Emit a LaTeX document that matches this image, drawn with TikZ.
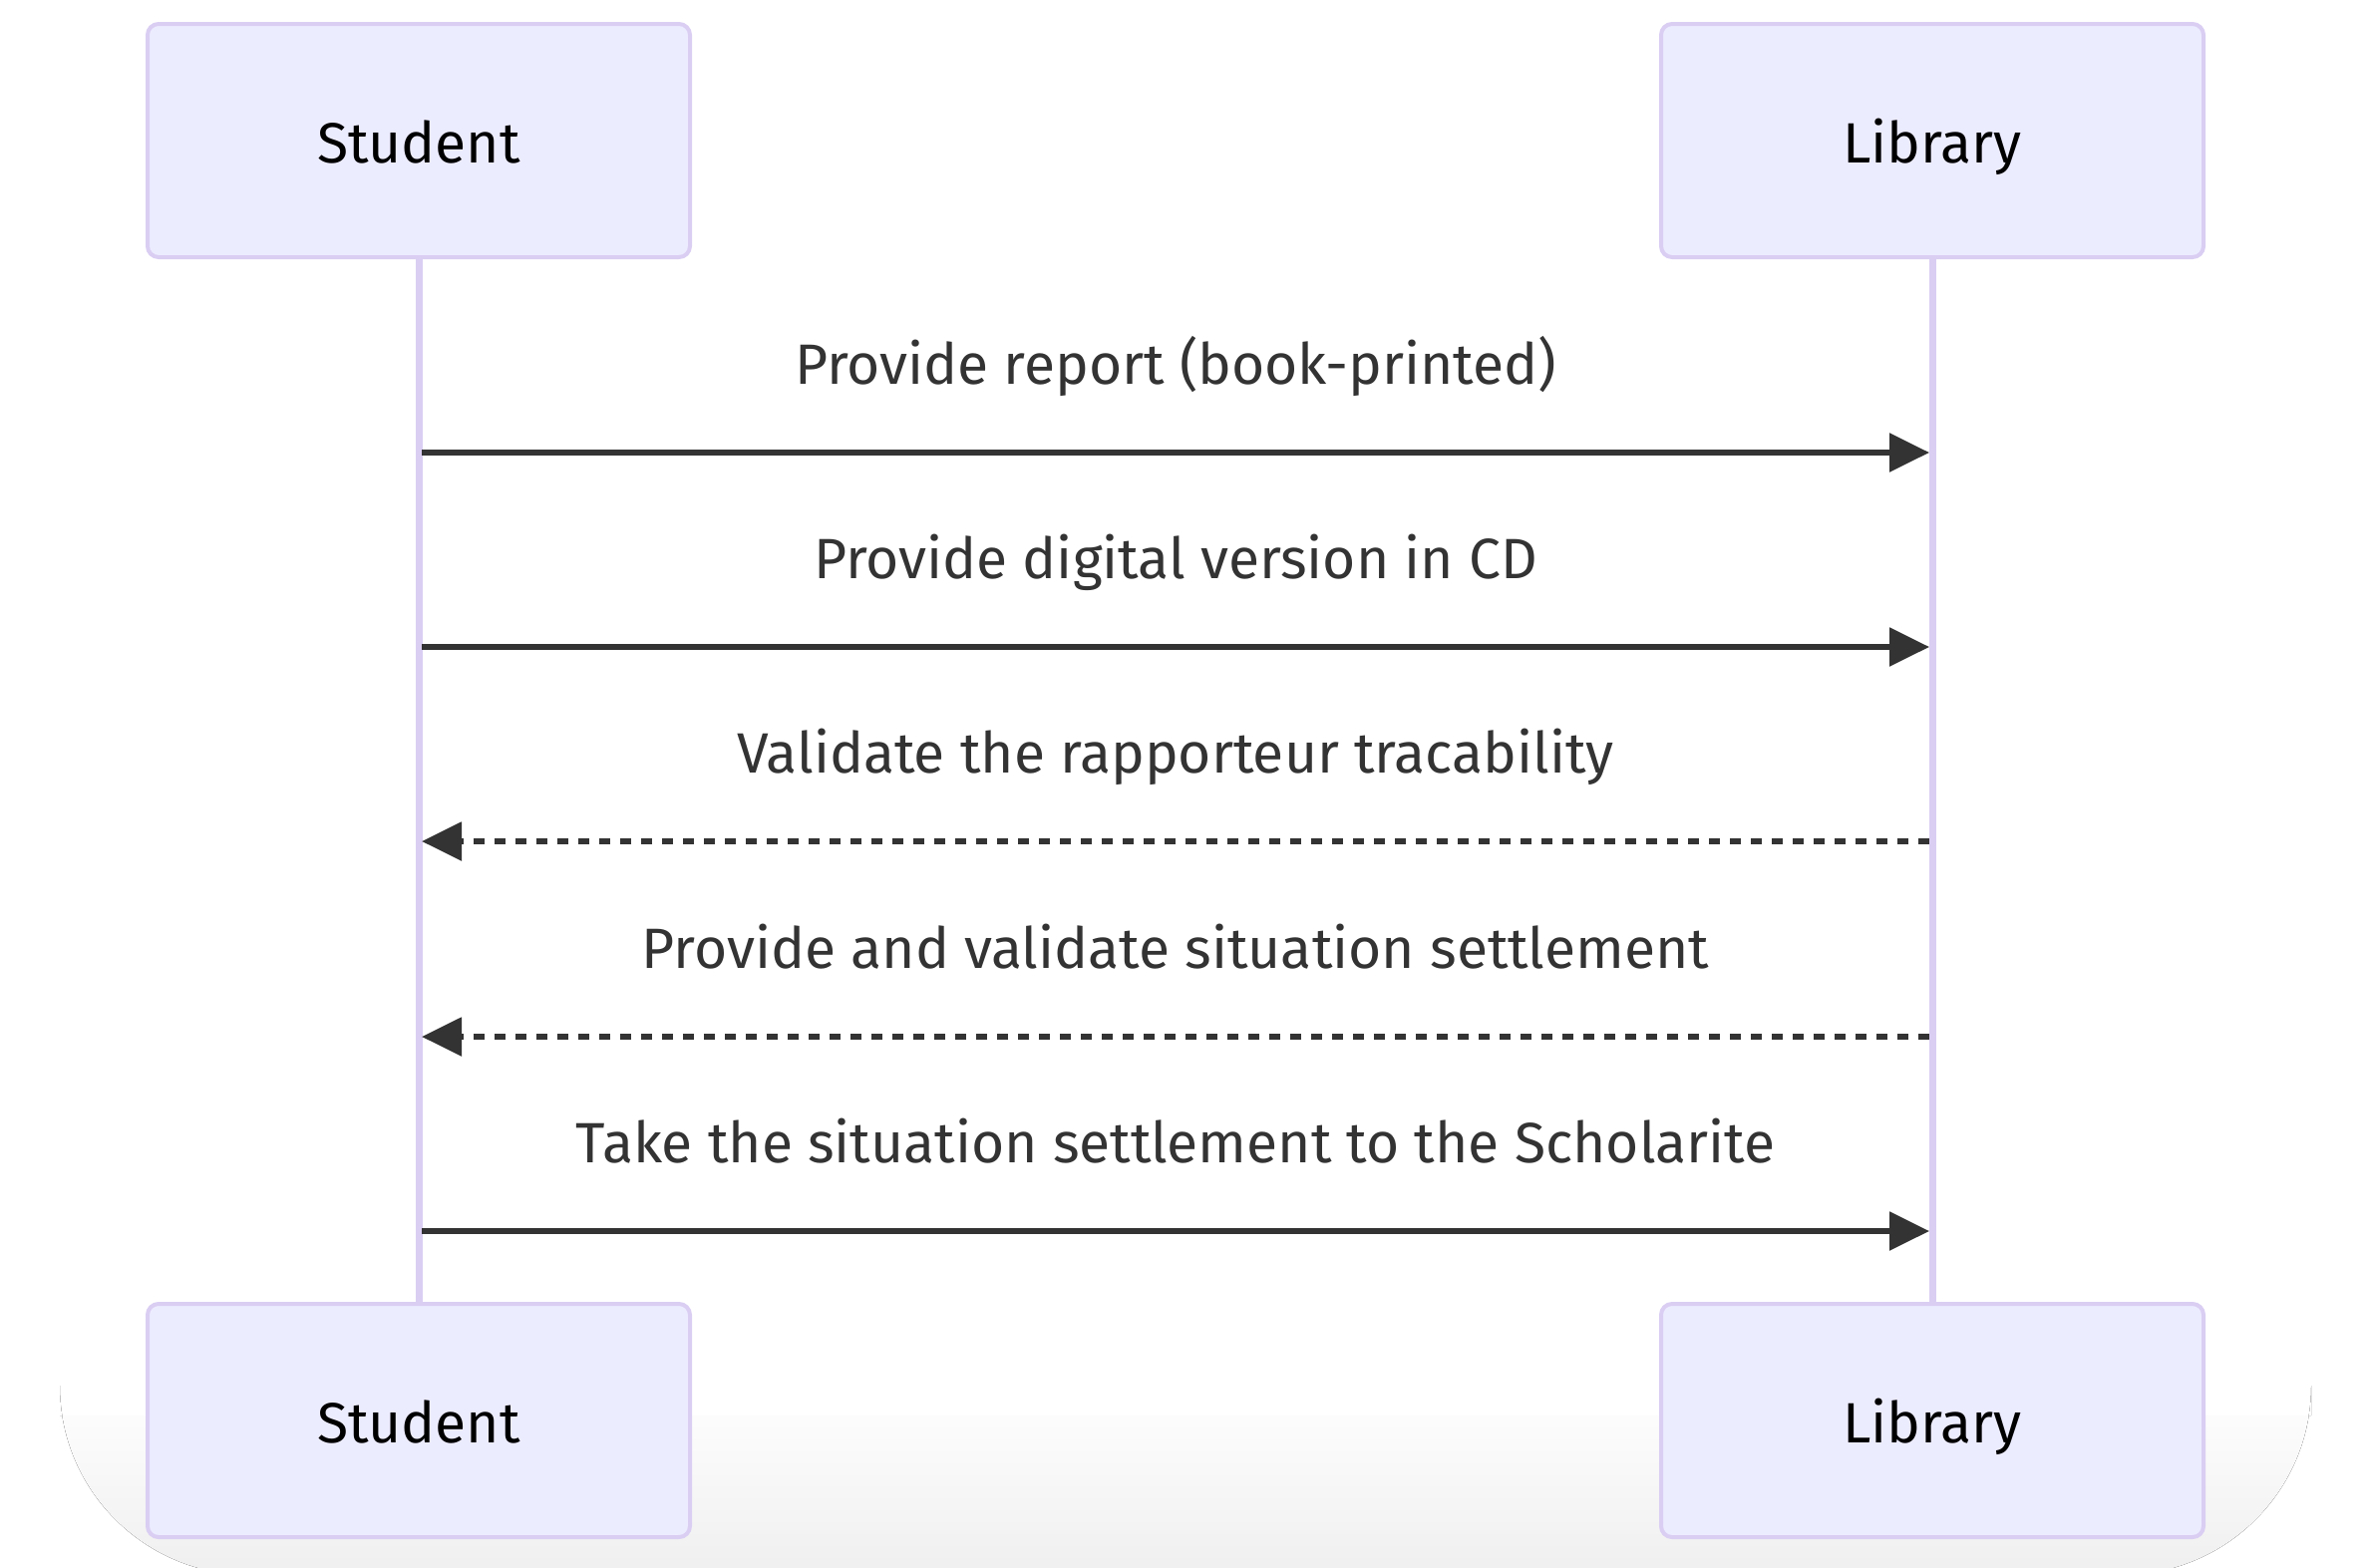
\documentclass[tikz,border=0pt]{standalone}
\usepackage{fontspec}
\setmainfont{Fira Sans}
\usetikzlibrary{arrows.meta}
\definecolor{actfill}{HTML}{ECECFF}
\definecolor{actline}{HTML}{DACEF3}
\definecolor{msgcol}{HTML}{333333}
\definecolor{shadowgray}{HTML}{EFEFEF}
\tikzset{
  actor/.style={draw=actline, fill=actfill, line width=4pt, rounded corners=11pt,
    minimum width=544pt, minimum height=234pt, inner sep=0pt,
    text height=44pt, text depth=0pt,
    font=\fontsize{57}{64}\selectfont, text=black},
  lifeline/.style={draw=actline, line width=7pt},
  msglabel/.style={anchor=base, inner sep=0pt, text=msgcol, font=\fontsize{57}{64}\selectfont},
  solidmsg/.style={draw=msgcol, line width=5.5pt, -{Triangle[length=40pt,width=38pt]}},
  dashmsg/.style={draw=msgcol, line width=5.5pt, dash pattern=on 11pt off 10pt, -{Triangle[length=40pt,width=38pt]}}
}
\begin{document}
\begin{tikzpicture}[x=1pt,y=-1pt]
\useasboundingbox (0,0) rectangle (2378,1572);
% bottom shadow
\begin{scope}
\clip (0,0) rectangle (2378,1572);
\fill[top color=white, middle color=white, bottom color=shadowgray]
  (60,1420) -- (60,1390) arc[start angle=180, end angle=90, radius=190]
  -- (2128,1580) arc[start angle=90, end angle=0, radius=190]
  -- (2318,1420) -- cycle;
\end{scope}
% actors
\node[actor] (stuTop) at (420,141) {Student};
\node[actor] (libTop) at (1938,141) {Library};
\node[actor] (stuBot) at (420,1425) {Student};
\node[actor] (libBot) at (1938,1425) {Library};
% lifelines
\draw[lifeline] (stuTop.south) -- (stuBot.north);
\draw[lifeline] (libTop.south) -- (libBot.north);
% message anchors
\coordinate (s1) at (423,454);    \coordinate (l1) at (1935,454);
\coordinate (s2) at (423,649);    \coordinate (l2) at (1935,649);
\coordinate (s3) at (423,844);    \coordinate (l3) at (1935,844);
\coordinate (s4) at (423,1040);   \coordinate (l4) at (1935,1040);
\coordinate (s5) at (423,1235);   \coordinate (l5) at (1935,1235);
% messages
\draw[solidmsg] (s1) -- (l1);
\node[msglabel] (t1) at (1179,385) {Provide report (book-printed)};
\draw[solidmsg] (s2) -- (l2);
\node[msglabel] (t2) at (1179,580) {Provide digital version in CD};
\draw[dashmsg] (l3) -- (s3);
\node[msglabel] (t3) at (1179,775) {Validate the rapporteur tracability};
\draw[dashmsg] (l4) -- (s4);
\node[msglabel] (t4) at (1179,971) {Provide and validate situation settlement};
\draw[solidmsg] (s5) -- (l5);
\node[msglabel] (t5) at (1179,1166) {Take the situation settlement to the Scholarite};
\end{tikzpicture}
\end{document}
